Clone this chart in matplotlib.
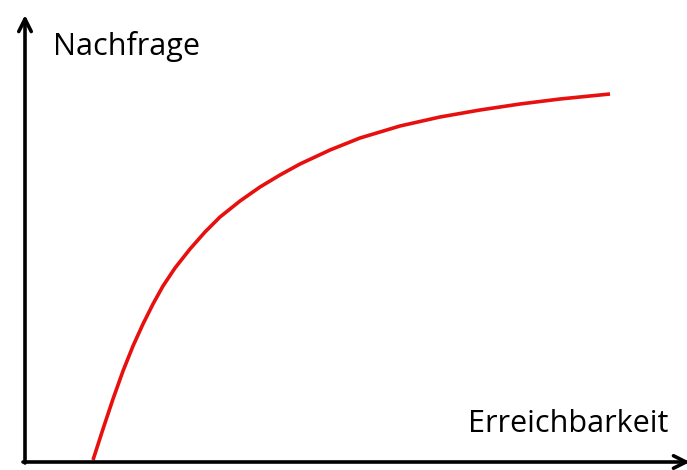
import numpy as np
import matplotlib
matplotlib.use("Agg")
import matplotlib.pyplot as plt

# curve (x: Erreichbarkeit, y: Nachfrage), pixel-like units
erreichbarkeit = [93, 103, 113, 123, 133, 143, 153, 163, 175, 190, 205, 220, 240, 260, 280,
                  300, 330, 360, 400, 440, 480, 520, 560, 610]
nachfrage = [10, 41, 71, 99, 124, 146, 166, 184, 202, 221, 238, 253, 269, 283, 295,
             306, 320, 332, 344, 353, 360, 366, 371, 376]

fig = plt.figure(figsize=(6.87, 4.70), dpi=100)
ax = fig.add_axes([0, 0, 1, 1])
ax.set_xlim(0, 687)
ax.set_ylim(0, 470)
ax.axis("off")

# axes with arrows
ax.annotate("", xy=(25, 455), xytext=(25, 7), annotation_clip=False,
            arrowprops=dict(arrowstyle="->,head_length=0.9,head_width=0.45", lw=2.6, color="black",
                            shrinkA=0, shrinkB=0))
ax.annotate("", xy=(690, 8), xytext=(23, 8), annotation_clip=False,
            arrowprops=dict(arrowstyle="->,head_length=0.9,head_width=0.45", lw=2.6, color="black",
                            shrinkA=0, shrinkB=0))

ax.plot(erreichbarkeit, nachfrage, color="#e8100f", lw=2.6, solid_capstyle="butt",
        solid_joinstyle="round")

ax.text(53, 424, "Nachfrage", fontsize=22, family="Open Sans", va="center", ha="left")
ax.text(668, 46, "Erreichbarkeit", fontsize=22, family="Open Sans", va="center", ha="right")

fig.savefig("out.png", dpi=100)
